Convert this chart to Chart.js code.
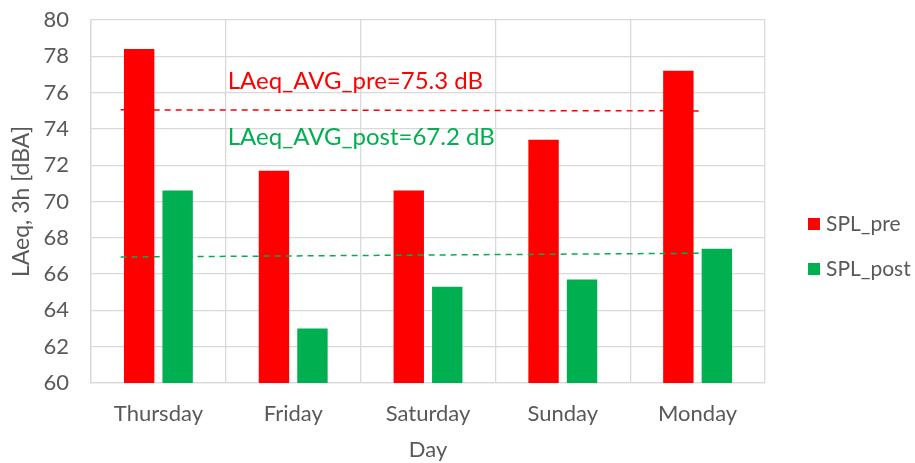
<!DOCTYPE html>
<html>
<head>
<meta charset="utf-8">
<script src="https://cdn.jsdelivr.net/npm/chart.js@4/dist/chart.umd.min.js"></script>
<style>
  html, body { margin: 0; padding: 0; background: #ffffff; }
  #wrap { width: 915px; height: 463px; position: relative; }
</style>
</head>
<body>
<div id="wrap"><canvas id="c" width="915" height="463"></canvas></div>
<script>
const categories = ['Thursday', 'Friday', 'Saturday', 'Sunday', 'Monday'];
const splPre = [78.4, 71.7, 70.6, 73.4, 77.2];
const splPost = [70.6, 63.0, 65.3, 65.7, 67.4];
// average trend lines: [category position, dB]
const avgPreX = [-0.28, 4.04];
const avgPreY = [75.05, 74.99];
const avgPostX = [-0.28, 4.04];
const avgPostY = [66.94, 67.15];
const yTicks = [60, 62, 64, 66, 68, 70, 72, 74, 76, 78, 80];
const annotations = [
  {text: 'LAeq_AVG_pre=75.3 dB', color: '#ff0000', xCat: 0.5, y: 76.6},
  {text: 'LAeq_AVG_post=67.2 dB', color: '#00b050', xCat: 0.5, y: 73.55}
];

const FONT = 'Lato, "Open Sans", sans-serif';
const GREY = '#595959';
const GRID = '#d9d9d9';
const RED = '#ff0000';
const GREEN = '#00b050';

const avgLines = [
  {xs: avgPreX, ys: avgPreY, color: RED},
  {xs: avgPostX, ys: avgPostY, color: GREEN}
];

const overlayPlugin = {
  id: 'overlay',
  afterDatasetsDraw(chart) {
    const ctx = chart.ctx;
    const xs = chart.scales.x, ys = chart.scales.y;
    ctx.save();
    ctx.lineWidth = 1.5;
    ctx.setLineDash([6, 5]);
    avgLines.forEach(l => {
      ctx.strokeStyle = l.color;
      ctx.beginPath();
      l.xs.forEach((xv, i) => {
        const px = xs.getPixelForValue(xv), py = ys.getPixelForValue(l.ys[i]);
        if (i === 0) ctx.moveTo(px, py); else ctx.lineTo(px, py);
      });
      ctx.stroke();
    });
    ctx.setLineDash([]);
    ctx.font = '24px ' + FONT;
    ctx.textBaseline = 'middle';
    ctx.textAlign = 'left';
    annotations.forEach(a => {
      ctx.fillStyle = a.color;
      ctx.fillText(a.text, xs.getPixelForValue(a.xCat) + 2, ys.getPixelForValue(a.y));
    });
    ctx.restore();
  }
};

const legendPlugin = {
  id: 'customLegend',
  afterDraw(chart) {
    const ctx = chart.ctx;
    const area = chart.chartArea;
    ctx.save();
    ctx.font = '21px ' + FONT;
    ctx.textBaseline = 'middle';
    ctx.textAlign = 'left';
    const items = chart.data.datasets;
    const x0 = area.right + 43;
    const yStart = 224;
    items.forEach((d, i) => {
      const y = yStart + i * 45;
      ctx.fillStyle = d.backgroundColor;
      ctx.fillRect(x0, y - 6, 12, 12);
      ctx.fillStyle = GREY;
      ctx.fillText(d.label, x0 + 18, y);
    });
    ctx.restore();
  }
};

new Chart(document.getElementById('c'), {
  type: 'bar',
  data: {
    labels: categories,
    datasets: [
      {label: 'SPL_pre', data: splPre, backgroundColor: RED,
       categoryPercentage: 0.571, barPercentage: 0.79},
      {label: 'SPL_post', data: splPost, backgroundColor: GREEN,
       categoryPercentage: 0.571, barPercentage: 0.79}
    ]
  },
  options: {
    responsive: false,
    animation: false,
    layout: {padding: {top: 20, right: 150, bottom: 0, left: 4}},
    plugins: {legend: {display: false}, tooltip: {enabled: false}},
    scales: {
      x: {
        type: 'category',
        offset: true,
        grid: {offset: true, color: GRID, lineWidth: 1.3, drawTicks: false},
        border: {color: GRID, width: 1.3},
        ticks: {color: GREY, font: {family: FONT, size: 22}, padding: 18},
        title: {display: true, text: 'Day', color: GREY, font: {family: FONT, size: 22}, padding: {top: 12, bottom: 0}},
        afterFit(s) { s.height = 80; }
      },
      y: {
        min: 60, max: 80,
        afterBuildTicks(s) { s.ticks = yTicks.map(v => ({value: v})); },
        grid: {color: GRID, lineWidth: 1.3, drawTicks: false},
        border: {color: GRID, width: 1.3},
        ticks: {color: GREY, font: {family: FONT, size: 22}, padding: 22},
        title: {display: true, text: 'LAeq, 3h [dBA]', color: GREY, font: {family: FONT, size: 23}, padding: {bottom: 0}},
        afterFit(s) { s.width = 87; s.paddingTop = 0; }
      }
    }
  },
  plugins: [overlayPlugin, legendPlugin]
});
</script>
</body>
</html>
